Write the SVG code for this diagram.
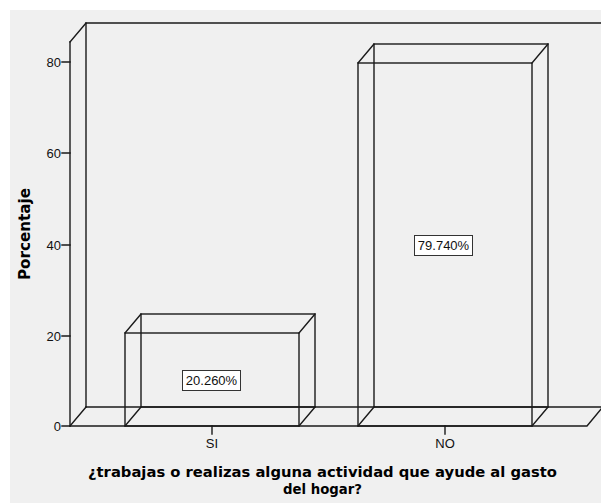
<svg xmlns="http://www.w3.org/2000/svg" width="601" height="503" viewBox="0 0 601 503">
<style>
.ln{stroke:#1a1a1a;stroke-width:1.4;fill:none;stroke-linecap:square}
.tk{font-family:"Liberation Sans",Arial,sans-serif;font-size:13px;fill:#111}
.ttl{font-family:"DejaVu Sans",Verdana,sans-serif;font-size:14px;font-weight:bold;fill:#000}
.lbl{stroke:#333;stroke-width:1;fill:#fff}
</style>
<rect x="0" y="0" width="601" height="503" fill="#fff"/>
<rect x="10" y="10" width="591" height="493" fill="#f0f0f0"/>
<g id="frame" class="ln">
<path d="M86,407 V23 H601"/>
<path d="M86,407 H601"/>
<path d="M70,42 L86,23"/>
<path d="M70,42 V426 H587 L602,408"/>
<path d="M70,426 L86,407"/>
</g>
<g id="yaxis">
<g class="ln"><path d="M62,62 H70 M62,153 H70 M62,245 H70 M62,336 H70 M62,426 H70"/></g>
<g class="tk" text-anchor="end">
<text x="61" y="67">80</text>
<text x="61" y="158">60</text>
<text x="61" y="250">40</text>
<text x="61" y="341">20</text>
<text x="61" y="431">0</text>
</g>
<text class="ttl" style="font-size:15px" transform="translate(30,234) rotate(-90)" text-anchor="middle" textLength="92" lengthAdjust="spacingAndGlyphs">Porcentaje</text>
</g>
<g id="bar-si">
<g class="ln">
<rect x="141" y="314" width="174" height="93"/>
<rect x="125" y="333" width="174" height="93"/>
<path d="M125,333 L141,314 M299,333 L315,314 M125,426 L141,407 M299,426 L315,407"/>
</g>
<rect class="lbl" x="182.5" y="370.5" width="58" height="20"/>
<text class="tk" x="211.5" y="385" text-anchor="middle">20.260%</text>
</g>
<g id="bar-no">
<g class="ln">
<rect x="374" y="44" width="174" height="363"/>
<rect x="358" y="63" width="174" height="363"/>
<path d="M358,63 L374,44 M532,63 L548,44 M358,426 L374,407 M532,426 L548,407"/>
</g>
<rect class="lbl" x="414.5" y="235.5" width="58" height="20"/>
<text class="tk" x="443.5" y="250" text-anchor="middle">79.740%</text>
</g>
<g id="xaxis">
<g class="ln"><path d="M212,426 V434 M445,426 V434"/></g>
<text class="tk" x="212" y="448" text-anchor="middle">SI</text>
<text class="tk" x="445" y="448" text-anchor="middle">NO</text>
<text class="ttl" x="322.5" y="477" text-anchor="middle" textLength="469" lengthAdjust="spacingAndGlyphs">¿trabajas o realizas alguna actividad que ayude al gasto</text>
<text class="ttl" x="322.5" y="494" text-anchor="middle" textLength="79" lengthAdjust="spacingAndGlyphs">del hogar?</text>
</g>
</svg>
